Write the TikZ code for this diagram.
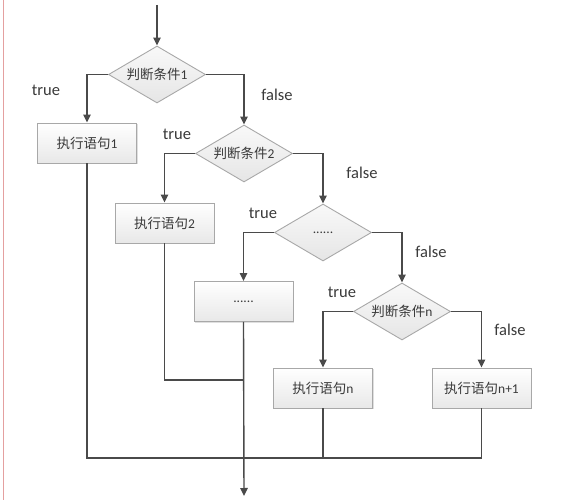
\documentclass[tikz,border=0pt]{standalone}
\usepackage{fontspec}
\setmainfont{Carlito}
\newfontfamily\cjk{Noto Sans CJK SC}
\usetikzlibrary{arrows.meta,shapes.geometric,shadows}
\definecolor{lineC}{HTML}{4A4A4A}
\definecolor{txtC}{HTML}{3A3A3A}
\definecolor{edgeC}{HTML}{A8A8A8}
\tikzset{
  flowbox/.style={rectangle, draw=edgeC, line width=0.9pt, top color=white, bottom color=gray!18,
    minimum width=99pt, minimum height=40pt, inner sep=0pt, text=txtC,
    font=\fontsize{13.5}{15}\selectfont,
    drop shadow={shadow xshift=1.2pt, shadow yshift=-1.2pt, opacity=0.25, fill=gray}},
  decision/.style={diamond, draw=edgeC, line width=0.9pt, top color=gray!5, bottom color=gray!20,
    aspect=1.7, minimum width=97pt, minimum height=57pt, inner sep=0pt, text=txtC,
    font=\fontsize{13.5}{15}\selectfont},
  lbl/.style={text=txtC, font=\fontsize{16.5}{18}\selectfont, inner sep=0pt},
  conn/.style={draw=lineC, line width=1.4pt},
  arr/.style={conn, -{Triangle[length=8pt,width=7.5pt]}},
}
\begin{document}
\begin{tikzpicture}[x=1pt,y=-1pt]
\useasboundingbox (0,0) rectangle (579,500);
\draw[color={rgb,255:red,228;green,160;blue,160}, line width=0.8pt] (3,0) -- (3,500);

\node[decision] (d1) at (157,74.5) {{\cjk 判断条件}1};
\node[flowbox]  (b1) at (87,143) {{\cjk 执行语句}1};
\node[decision] (d2) at (244,153.5) {{\cjk 判断条件}2};
\node[flowbox]  (b2) at (164.5,223) {{\cjk 执行语句}2};
\node[decision] (d3) at (323,232.5) {......};
\node[flowbox]  (b3) at (243.5,301.5) {......};
\node[decision] (d4) at (402,311.5) {{\cjk 判断条件}n};
\node[flowbox]  (b4) at (323,388) {{\cjk 执行语句}n};
\node[flowbox]  (b5) at (481.5,388) {{\cjk 执行语句}n+1};

\node[lbl] (t1) at (46,90) {true};
\node[lbl] (f1) at (277,95) {false};
\node[lbl] (t2) at (177,134) {true};
\node[lbl] (f2) at (362,173) {false};
\node[lbl] (t3) at (263,213) {true};
\node[lbl] (f3) at (431,252) {false};
\node[lbl] (t4) at (342,292) {true};
\node[lbl] (f4) at (510,330) {false};

\coordinate (start) at (157,5);
\coordinate (m1) at (244,380);
\coordinate (m2) at (244,458);
\coordinate (stop) at (244,496);

\draw[arr] (start) -- (d1.north);
\draw[arr] (d1.west) -| (b1.north);
\draw[arr] (d1.east) -| (d2.north);
\draw[arr] (d2.west) -| (b2.north);
\draw[arr] (d2.east) -| (d3.north);
\draw[arr] (d3.west) -| (b3.north);
\draw[arr] (d3.east) -| (d4.north);
\draw[arr] (d4.west) -| (b4.north);
\draw[arr] (d4.east) -| (b5.north);

\draw[conn] (b2.south) |- (m1);
\draw[conn] (b1.south) |- (m2);
\draw[conn] (b4.south) |- (m2);
\draw[conn] (b5.south) |- (m2);
\draw[arr] (b3.south) -- (stop);
\end{tikzpicture}
\end{document}
